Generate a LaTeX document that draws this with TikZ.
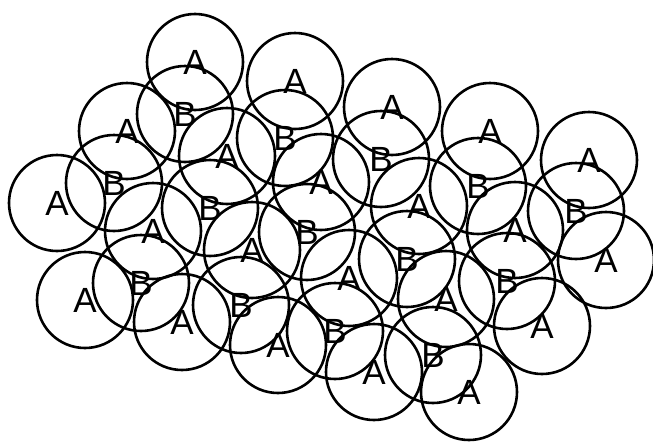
\documentclass[tikz,border=0pt]{standalone}
\usepackage{fontspec}
\setmainfont{Liberation Sans}
\usepackage{tikz}

\begin{document}
\begin{tikzpicture}[
    x=1pt, y=-1pt,
    site/.style={draw=black, circle, line width=2.6pt, minimum size=96pt, inner sep=0pt, font=\fontsize{35}{35}\selectfont}
]
\useasboundingbox (0,0) rectangle (653,442);
% top row
\node[site] (a1) at (195,62) {A};
\node[site] (a2) at (295,81) {A};
\node[site] (a3) at (392,107) {A};
\node[site] (a4) at (490,131) {A};
\node[site] (a5) at (589,160) {A};
% second row
\node[site] (a6) at (127,131) {A};
\node[site] (b1) at (185,114) {B};
\node[site] (a7) at (227,156) {A};
\node[site] (b2) at (285,138) {B};
\node[site] (a8) at (321,182) {A};
\node[site] (b3) at (381,159) {B};
\node[site] (a9) at (419,206) {A};
\node[site] (b4) at (478,186) {B};
\node[site] (a10) at (515,230) {A};
\node[site] (b5) at (576,211) {B};
\node[site] (a11) at (606,260) {A};
% third row
\node[site] (a12) at (57,203) {A};
\node[site] (b6) at (114,183) {B};
\node[site] (a13) at (153,231) {A};
\node[site] (b7) at (210,208) {B};
\node[site] (a14) at (252,250) {A};
\node[site] (b8) at (307,232) {B};
\node[site] (a15) at (349,278) {A};
\node[site] (b9) at (407,259) {B};
\node[site] (a16) at (446,299) {A};
\node[site] (b10) at (507,281) {B};
\node[site] (a17) at (542,326) {A};
% bottom row
\node[site] (a18) at (85,300) {A};
\node[site] (b11) at (141,283) {B};
\node[site] (a19) at (182,322) {A};
\node[site] (b12) at (241,305) {B};
\node[site] (a20) at (278,345) {A};
\node[site] (b13) at (335,331) {B};
\node[site] (a21) at (374,372) {A};
\node[site] (b14) at (433,355) {B};
\node[site] (a22) at (469,392) {A};
\end{tikzpicture}
\end{document}
